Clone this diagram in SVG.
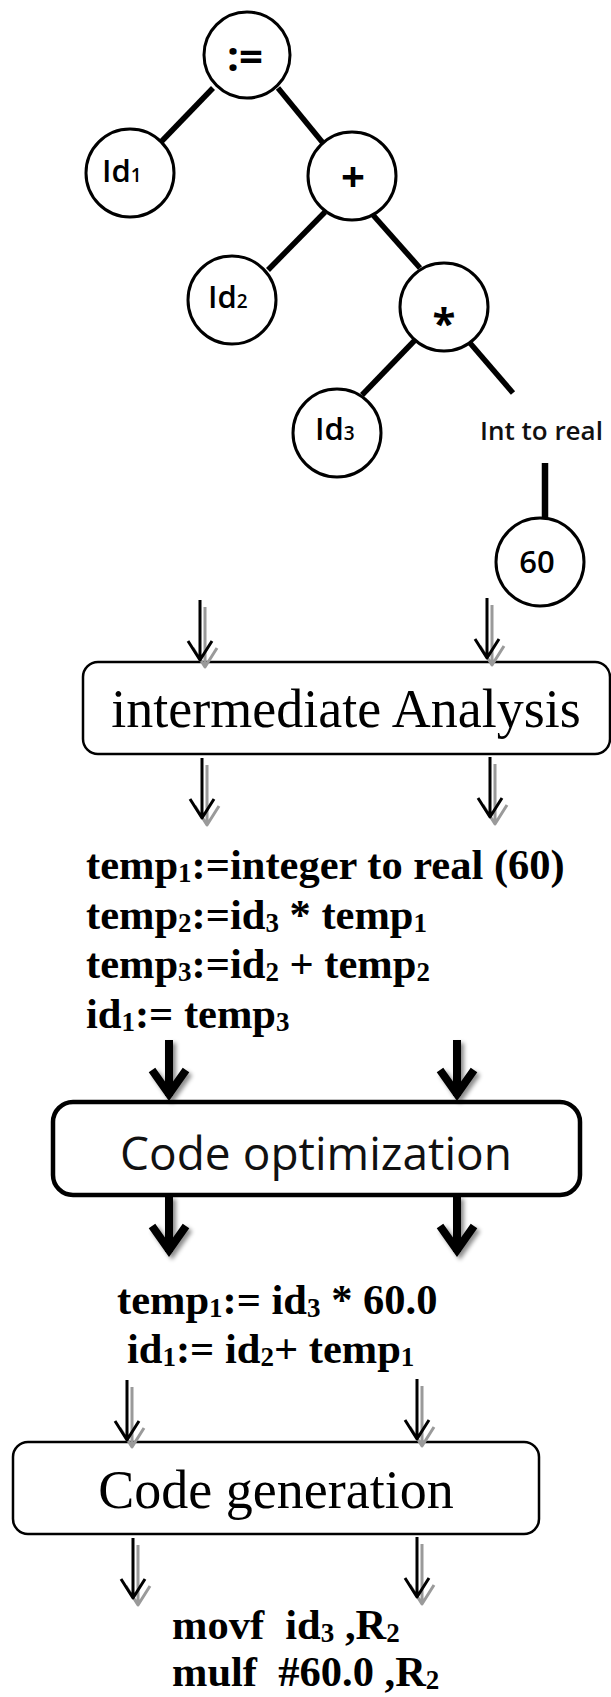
<svg xmlns="http://www.w3.org/2000/svg" width="611" height="1697" viewBox="0 0 611 1697">
  <style>
    .node circle { fill: #fff; stroke: #000; stroke-width: 3; }
    .edge { stroke: #000; stroke-width: 5.5; fill: none; }
    .tree { font-family: "Open Sans", "Liberation Sans", sans-serif; font-weight: 600; fill: #000; font-size: 31px; }
    .tsub { font-size: 19px; }
    .tree.op { font-weight: 700; text-anchor: middle; font-size: 42px; }
    .tree.num { font-weight: 600; text-anchor: middle; font-size: 31px; }
    .tree.label { font-weight: 600; font-size: 26px; fill: #111; }
    .box { fill: #fff; stroke: #000; stroke-width: 2.5; }
    .box.heavy { stroke-width: 4.5; }
    .stage { font-family: "Liberation Serif", "Times New Roman", serif; font-size: 54px; fill: #000; text-anchor: middle; }
    .stage-sans { font-family: "Open Sans", "Liberation Sans", sans-serif; font-size: 46px; fill: #111; text-anchor: middle; }
    .code { font-family: "Liberation Serif", "Times New Roman", serif; font-weight: 700; font-size: 42.5px; fill: #000; }
    .sub { font-size: 27px; }
    .thin { fill: none; stroke: #000; stroke-width: 3; stroke-linejoin: round; }
    .thin-shadow { fill: none; stroke: #9a9a9a; stroke-width: 3; stroke-linejoin: round; }
    .thick { fill: none; stroke: #000; stroke-width: 8; stroke-linejoin: miter; }
  </style>
  <defs>
    <!-- open arrow, shaft length 60, tip at (0,60) -->
    <path id="arrow-thin" d="M0,0 V60 M-12,41 L0,60 L12,41"/>
    <path id="arrow-thick" d="M0,0 V56 M-17,30 L0,54 L17,30"/>
    <filter id="soft-shadow" x="-50%" y="-20%" width="200%" height="150%">
      <feDropShadow dx="3" dy="3" stdDeviation="2.2" flood-color="#000" flood-opacity="0.45"/>
    </filter>
  </defs>

  <rect width="611" height="1697" fill="#fff"/>

  <!-- syntax tree edges -->
  <g id="tree-edges">
    <line class="edge" x1="213" y1="88" x2="160" y2="143"/>
    <line class="edge" x1="278" y1="88" x2="323" y2="143"/>
    <line class="edge" x1="325" y1="212" x2="268" y2="270"/>
    <line class="edge" x1="373" y1="215" x2="420" y2="268"/>
    <line class="edge" x1="417" y1="338" x2="362" y2="395"/>
    <line class="edge" x1="470" y1="343" x2="513" y2="393"/>
    <line class="edge" x1="545" y1="463" x2="545" y2="518" style="stroke-width:6.5"/>
  </g>

  <!-- syntax tree nodes -->
  <g id="node-assign" class="node">
    <circle cx="247" cy="55" r="43"/>
    <text class="tree op" x="245" y="71">:=</text>
  </g>
  <g id="node-id1" class="node">
    <circle cx="130" cy="173" r="44"/>
    <text class="tree" x="102" y="182">Id<tspan class="tsub">1</tspan></text>
  </g>
  <g id="node-plus" class="node">
    <circle cx="352" cy="176" r="44"/>
    <text class="tree op" x="353" y="192">+</text>
  </g>
  <g id="node-id2" class="node">
    <circle cx="232" cy="300" r="44"/>
    <text class="tree" x="208" y="308">Id<tspan class="tsub">2</tspan></text>
  </g>
  <g id="node-mul" class="node">
    <circle cx="444" cy="307" r="44"/>
    <text class="tree op" x="444" y="338">*</text>
  </g>
  <g id="node-id3" class="node">
    <circle cx="337" cy="433" r="44"/>
    <text class="tree" x="315" y="440">Id<tspan class="tsub">3</tspan></text>
  </g>
  <g id="node-inttoreal">
    <text class="tree label" x="480" y="440">Int to real</text>
  </g>
  <g id="node-60" class="node">
    <circle cx="540" cy="562" r="44"/>
    <text class="tree num" x="537" y="573">60</text>
  </g>

  <!-- pipeline stages -->
  <g id="stage-intermediate">
    <rect class="box" x="83" y="662" width="527" height="92" rx="15"/>
    <text class="stage" x="346" y="727">intermediate Analysis</text>
  </g>

  <g id="code-intermediate" class="code">
    <text x="86" y="879">temp<tspan class="sub" dy="3">1</tspan><tspan dy="-3">:=integer to real (60)</tspan></text>
    <text x="86" y="929">temp<tspan class="sub" dy="3">2</tspan><tspan dy="-3">:=id</tspan><tspan class="sub" dy="3">3</tspan><tspan dy="-3"> * temp</tspan><tspan class="sub" dy="3">1</tspan></text>
    <text x="86" y="978">temp<tspan class="sub" dy="3">3</tspan><tspan dy="-3">:=id</tspan><tspan class="sub" dy="3">2</tspan><tspan dy="-3"> + temp</tspan><tspan class="sub" dy="3">2</tspan></text>
    <text x="86" y="1028">id<tspan class="sub" dy="3">1</tspan><tspan dy="-3">:= temp</tspan><tspan class="sub" dy="3">3</tspan></text>
  </g>

  <g id="stage-optimization">
    <rect class="box heavy" x="53" y="1102" width="527" height="93" rx="20"/>
    <text class="stage-sans" x="316" y="1170" textLength="392">Code optimization</text>
  </g>

  <g id="code-optimized" class="code">
    <text x="117" y="1314">temp<tspan class="sub" dy="3">1</tspan><tspan dy="-3">:= id</tspan><tspan class="sub" dy="3">3</tspan><tspan dy="-3"> * 60.0</tspan></text>
    <text x="127" y="1363">id<tspan class="sub" dy="3">1</tspan><tspan dy="-3">:= id</tspan><tspan class="sub" dy="3">2</tspan><tspan dy="-3">+ temp</tspan><tspan class="sub" dy="3">1</tspan></text>
  </g>

  <g id="stage-generation">
    <rect class="box" x="13" y="1442" width="526" height="92" rx="15"/>
    <text class="stage" x="276" y="1508">Code generation</text>
  </g>

  <g id="code-target" class="code">
    <text x="172" y="1639">movf&#160; id<tspan class="sub" dy="3">3</tspan><tspan dy="-3"> ,R</tspan><tspan class="sub" dy="3">2</tspan></text>
    <text x="172" y="1686">mulf&#160; #60.0 ,R<tspan class="sub" dy="3">2</tspan></text>
  </g>

  <!-- connectors between stages -->
  <g id="connectors">
    <!-- thin arrows: grey offset copy underneath -->
    <g class="thin-shadow">
      <use href="#arrow-thin" x="205" y="607"/>
      <use href="#arrow-thin" x="492" y="605"/>
      <use href="#arrow-thin" x="207" y="765"/>
      <use href="#arrow-thin" x="495" y="764"/>
      <use href="#arrow-thin" x="132" y="1387"/>
      <use href="#arrow-thin" x="422" y="1386"/>
      <use href="#arrow-thin" x="138" y="1545"/>
      <use href="#arrow-thin" x="422" y="1544"/>
    </g>
    <g class="thin">
      <use href="#arrow-thin" x="200" y="600"/>
      <use href="#arrow-thin" x="487" y="598"/>
      <use href="#arrow-thin" x="202" y="758"/>
      <use href="#arrow-thin" x="490" y="757"/>
      <use href="#arrow-thin" x="127" y="1380"/>
      <use href="#arrow-thin" x="417" y="1379"/>
      <use href="#arrow-thin" x="133" y="1538"/>
      <use href="#arrow-thin" x="417" y="1537"/>
    </g>
    <!-- bold arrows around the optimizer -->
    <g class="thick" filter="url(#soft-shadow)">
      <use href="#arrow-thick" x="169" y="1040"/>
      <use href="#arrow-thick" x="457" y="1040"/>
      <use href="#arrow-thick" x="169" y="1196"/>
      <use href="#arrow-thick" x="457" y="1196"/>
    </g>
  </g>
</svg>
